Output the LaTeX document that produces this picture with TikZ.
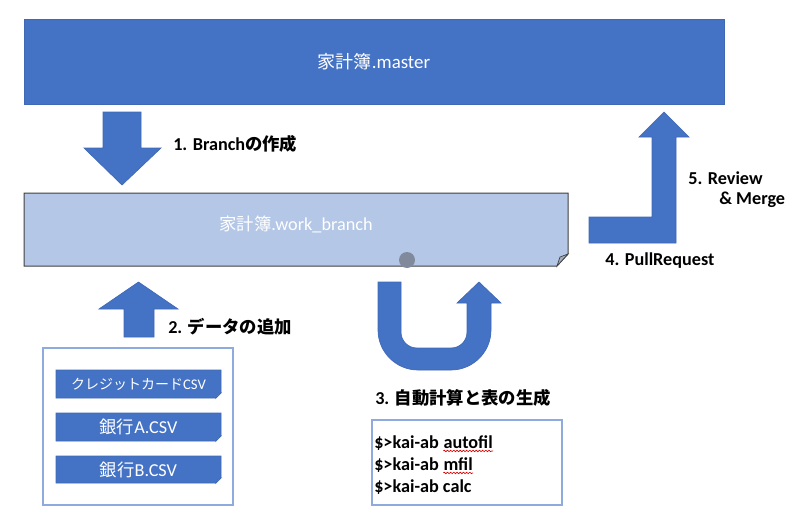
\documentclass[tikz,border=0pt]{standalone}
\usepackage{fontspec}
\setmainfont{Carlito}[Scale=1.05]
\newfontfamily\cjk{Noto Sans CJK JP}
\usetikzlibrary{decorations.pathmorphing}
\definecolor{mblue}{HTML}{4472C4}
\definecolor{mbord}{HTML}{3F69B5}
\definecolor{lblue}{HTML}{B4C7E7}
\definecolor{bord}{HTML}{8FAADC}
\definecolor{dotc}{HTML}{808A9C}
\definecolor{flapc}{HTML}{A3ACBD}
\tikzset{
  blockarrow/.style={fill=mblue, draw=mbord, line width=0.5pt},
  lbl/.style={anchor=west, inner sep=0pt, font=\fontsize{13pt}{15pt}\selectfont\bfseries},
  boxtext/.style={inner sep=0pt, text=white},
  cmd/.style={anchor=base west, inner sep=0pt, font=\fontsize{13pt}{16pt}\selectfont\bfseries},
  squiggle/.style={draw=red!85!black, line width=0.5pt, decorate, decoration={snake, amplitude=0.55pt, segment length=2.4pt}},
  csv/.style={fill=mblue, draw=mbord, line width=0.5pt},
  frame/.style={draw=bord, line width=0.8pt}
}
\begin{document}
\begin{tikzpicture}[x=0.75pt, y=-0.75pt]
\useasboundingbox (0,0) rectangle (800,521);

% master
\node[fill=mblue, draw=mbord, line width=0.5pt, minimum width=700*0.75pt, minimum height=85*0.75pt, text=white,
      font=\fontsize{13.5pt}{15pt}\selectfont] (master) at (374,61.5) {{\cjk 家計簿}.master};

% work branch (folded corner)
\path[fill=lblue, draw=black!75, line width=0.75pt] (24,193) -- (568,193) -- (568,254) -- (557,266) -- (24,266) -- cycle;
\path[fill=flapc, draw=black!75, line width=0.5pt] (557,266) -- (560,257) -- (568,254) -- cycle;
\node[boxtext, font=\fontsize{13pt}{15pt}\selectfont] (work) at (296,224) {{\cjk 家計簿}.work\_branch};
\fill[dotc] (407,260) circle[radius=8];
\coordinate (dot) at (407,260);

% arrow 1 (down)
\path[blockarrow] (103,112) -- (141,112) -- (141,148) -- (161,148) -- (122,185) -- (84,148) -- (103,148) -- cycle;
\node[lbl] (l1) at (173,144) {1. Branch{\cjk の作成}};

% arrow 2 (up)
\path[blockarrow] (124,337) -- (124,309) -- (99,309) -- (138.5,282) -- (178,309) -- (154,309) -- (154,337) -- cycle;
\node[lbl] (l2) at (168,327) {2. {\cjk データの追加}};

% container with CSV files
\draw[frame] (43,348) rectangle (233,505);
\path[csv] (56,370) -- (221,370) -- (221,393) -- (216,398) -- (56,398) -- cycle;
\path[fill=mbord!70!white, draw=mbord, line width=0.4pt] (216,398) -- (217.5,394.5) -- (221,393) -- cycle;
\node[boxtext, font=\fontsize{10.5pt}{13pt}\selectfont] (csv1) at (138.5,384) {{\cjk クレジットカード}CSV};
\path[csv] (56,413) -- (221,413) -- (221,436) -- (216,441) -- (56,441) -- cycle;
\path[fill=mbord!70!white, draw=mbord, line width=0.4pt] (216,441) -- (217.5,437.5) -- (221,436) -- cycle;
\node[boxtext, font=\fontsize{13pt}{15pt}\selectfont] (csv2) at (138.5,427) {{\cjk 銀行}A.CSV};
\path[csv] (56,456) -- (221,456) -- (221,478) -- (216,483) -- (56,483) -- cycle;
\path[fill=mbord!70!white, draw=mbord, line width=0.4pt] (216,483) -- (217.5,479.5) -- (221,478) -- cycle;
\node[boxtext, font=\fontsize{13pt}{15pt}\selectfont] (csv3) at (138.5,469.5) {{\cjk 銀行}B.CSV};

% U-turn arrow
\path[blockarrow] (378,282) -- (378,330) .. controls (378,352) and (396,370) .. (418,370)
  -- (451,370) .. controls (473,370) and (491,352) .. (491,330) -- (491,303) -- (501,303) -- (479,282)
  -- (457,303) -- (467,303) -- (467,332) .. controls (467,341) and (460,348) .. (451,348)
  -- (417,348) .. controls (408,348) and (401,341) .. (401,332) -- (401,282) -- cycle;
\node[lbl] (l3) at (375,398) {3. {\cjk 自動計算と表の生成}};

% command box
\draw[frame] (372,420) rectangle (562,505);
\node[cmd] (c1) at (374,448) {\$>kai-ab};
\node[cmd] (c1w) at ([xshift=3.1pt]c1.base east) {autofil};
\node[cmd] (c2) at (374,470) {\$>kai-ab};
\node[cmd] (c2w) at ([xshift=3.1pt]c2.base east) {mfil};
\node[cmd] (c3) at (374,492) {\$>kai-ab calc};
\path[squiggle] ([yshift=-2.2pt]c1w.base west) -- ([yshift=-2.2pt]c1w.base east);
\path[squiggle] ([yshift=-2.2pt]c2w.base west) -- ([yshift=-2.2pt]c2w.base east);

% bent arrow (PullRequest -> merge)
\path[blockarrow] (589,217) -- (652,217) -- (652,137) -- (639,137) -- (664,112) -- (689,137) -- (676,137) -- (676,243) -- (589,243) -- cycle;
\node[lbl] (l4) at (605,261) {4. PullRequest};
\node[lbl] (l5) at (688,178) {5. Review};
\node[lbl] (l5b) at (719,200) {\& Merge};
\end{tikzpicture}
\end{document}
